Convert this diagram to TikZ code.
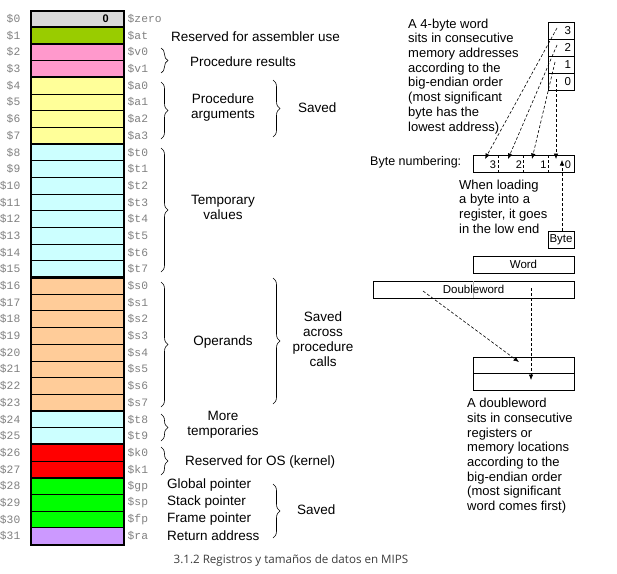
\documentclass[tikz,border=0pt]{standalone}
\usepackage{fontspec}
\setmainfont{Liberation Sans}
\newfontfamily\monof{Liberation Mono}
\newfontfamily\capf{Open Sans}
\usetikzlibrary{decorations.pathreplacing,arrows.meta,calc}
\definecolor{czero}{HTML}{D9D9D9}
\definecolor{cat}{HTML}{99CC00}
\definecolor{cv}{HTML}{FF99CC}
\definecolor{ca}{HTML}{FFFF99}
\definecolor{ct}{HTML}{CCFFFF}
\definecolor{cs}{HTML}{FFCC99}
\definecolor{ck}{HTML}{FF0000}
\definecolor{cg}{HTML}{00FF00}
\definecolor{cra}{HTML}{CC99FF}
\definecolor{mgray}{HTML}{808080}
\definecolor{capgray}{HTML}{3C3C3C}
\begin{document}
\begin{tikzpicture}[x=1pt,y=-1pt,
  reg/.style={draw, line width=0.8pt, minimum width=93pt, minimum height=16.6875pt, inner sep=0pt, outer sep=0pt},
  regnum/.style={font=\monof\fontsize{11.3}{12}\selectfont, text=mgray, inner sep=0pt, anchor=east},
  regname/.style={font=\monof\fontsize{11.3}{12}\selectfont, text=mgray, inner sep=0pt, anchor=west},
  lbl/.style={font=\fontsize{13.5}{15}\selectfont, inner sep=0pt, align=center},
  para/.style={font=\fontsize{13}{14.7}\selectfont, inner sep=0pt, align=left, anchor=north west},
  brc/.style={decorate, decoration={brace, amplitude=7pt}, line width=0.6pt},
  sbox/.style={draw, line width=0.6pt, inner sep=0pt, outer sep=0pt, font=\fontsize{11.5}{12}\selectfont},
  darr/.style={line width=0.6pt, dash pattern=on 3pt off 2pt, -{Latex[length=5.5pt,width=4.5pt]}},
  dline/.style={line width=0.6pt, dash pattern=on 3pt off 2pt}
]
\useasboundingbox (0,0) rectangle (617,573);

% register column
\foreach \i/\c/\rn in {0/czero/zero,1/cat/at,2/cv/v0,3/cv/v1,4/ca/a0,5/ca/a1,6/ca/a2,7/ca/a3,
  8/ct/t0,9/ct/t1,10/ct/t2,11/ct/t3,12/ct/t4,13/ct/t5,14/ct/t6,15/ct/t7,
  16/cs/s0,17/cs/s1,18/cs/s2,19/cs/s3,20/cs/s4,21/cs/s5,22/cs/s6,23/cs/s7,
  24/ct/t8,25/ct/t9,26/ck/k0,27/ck/k1,28/cg/gp,29/cg/sp,30/cg/fp,31/cra/ra}{
  \node[reg, fill=\c] (r\i) at (77.5,{10.5+(\i+0.5)*16.6875}) {};
  \node[regnum] (num\i) at (20.5,{10.5+(\i+0.5)*16.6875}) {\$\i};
  \node[regname] (nm\i) at (127.5,{10.5+(\i+0.5)*16.6875}) {\$\rn};
}
\foreach \k in {0,1,3,7,15,23,25,27}{
  \draw[line width=2.2pt] (r\k.south west) -- (r\k.south east);
}
\draw[line width=2pt] (r0.north west) rectangle (r31.south east);
\node[font=\bfseries\fontsize{11}{12}\selectfont, inner sep=0pt, anchor=east] (zeroval) at (109,19) {0};

% braces
\draw[brc] (161,48) -- (161,73);
\draw[brc] (161,82) -- (161,139);
\draw[brc] (273,80) -- (273,137);
\draw[brc] (161,148) -- (161,272);
\draw[brc] (161,282) -- (161,407);
\draw[brc] (273,278) -- (273,404);
\draw[brc] (161,414) -- (161,441);
\draw[brc] (161,447) -- (161,475);
\draw[brc] (273,484) -- (273,538);

% labels
\node[lbl, anchor=west] (asm) at (171,37) {Reserved for assembler use};
\node[lbl, anchor=west] (pres) at (190,62) {Procedure results};
\node[lbl] (parg) at (223,107.5) {Procedure\\arguments};
\node[lbl, anchor=west] (sav1) at (298,108) {Saved};
\node[lbl] (tmp) at (223,207.5) {Temporary\\values};
\node[lbl] (oper) at (223,342) {Operands};
\node[lbl] (across) at (323,339.5) {Saved\\across\\procedure\\calls};
\node[lbl] (more) at (223,424.5) {More\\temporaries};
\node[lbl, anchor=west] (os) at (185,462) {Reserved for OS (kernel)};
\node[lbl, anchor=west] (gpl) at (167,485) {Global pointer};
\node[lbl, anchor=west] (spl) at (167,502) {Stack pointer};
\node[lbl, anchor=west] (fpl) at (167,519) {Frame pointer};
\node[lbl, anchor=west] (ral) at (167,536) {Return address};
\node[lbl, anchor=west] (sav3) at (297,510) {Saved};

% right side: 4-byte word
\node[para] (p1) at (408,18.5) {A 4-byte word\\sits in consecutive\\memory addresses\\according to the\\big-endian order\\(most significant\\byte has the\\lowest address)};
\foreach \j/\yy in {3/30.5,2/47.5,1/64.5,0/81.5}{
  \node[sbox, minimum width=26pt, minimum height=17pt, text width=20pt, align=right] (b\j) at (561,\yy) {\j};
}
\node[font=\fontsize{12.5}{14}\selectfont, inner sep=0pt, anchor=west] (bnl) at (370,162.5) {Byte numbering:};
\node[sbox, minimum width=101pt, minimum height=17pt] (bn) at (523.5,163.5) {};
\foreach \f in {0.25,0.5,0.75}{
  \draw[dline] ($(bn.north west)!\f!(bn.north east)$) -- ($(bn.south west)!\f!(bn.south east)$);
}
\foreach \j/\xx in {3/493,2/519,1/543.5,0/568}{
  \node[font=\fontsize{11}{12}\selectfont, inner sep=0pt] (n\j) at (\xx,165) {\j};
}
\coordinate (t3) at (485,159);
\coordinate (t2) at (508,159);
\coordinate (t1) at (532,159);
\coordinate (t0) at (556,159);
\draw[darr] ([xshift=-4pt,yshift=2.5pt]b3.center) -- (t3);
\draw[darr] ([xshift=-4pt,yshift=2.5pt]b2.center) -- (t2);
\draw[darr] ([xshift=-6pt,yshift=2.5pt]b1.center) -- (t1);
\draw[darr] ([xshift=-5pt,yshift=2.5pt]b0.center) -- (t0);

\node[para] (p2) at (459,179.5) {When loading\\a byte into a\\register, it goes\\in the low end};
\node[sbox, minimum width=26pt, minimum height=17pt] (byte) at (561,239.5) {Byte};
\coordinate (tb) at (562,160);
\draw[darr] (byte.north -| tb) -- (tb);
\node[sbox, minimum width=101pt, minimum height=17pt] (word) at (523.5,264.5) {Word};
\node[sbox, minimum width=201pt, minimum height=17pt] (dw) at (473.5,289.5) {};
\draw[black!30, line width=0.6pt] (dw.north) -- (dw.south);
\node[font=\fontsize{11.5}{12}\selectfont, inner sep=0pt] (dwl) at (dw.center) {Doubleword};
\node[sbox, minimum width=101pt, minimum height=16pt] (hi) at (523.5,365) {};
\node[sbox, minimum width=101pt, minimum height=17pt] (lo) at (523.5,381.5) {};
\draw[darr] ([xshift=-50.5pt,yshift=-1.5pt]dw.center) -- ([xshift=-4.5pt,yshift=3pt]hi.center);
\draw[darr] ([xshift=57.5pt,yshift=1.5pt]dw.center) -- ([xshift=7.5pt,yshift=1.5pt]lo.center);

\node[para] (p3) at (467,398) {A doubleword\\sits in consecutive\\registers or\\memory locations\\according to the\\big-endian order\\(most significant\\word comes first)};

% caption
\node[font=\capf\fontsize{11.6}{13}\selectfont, text=capgray, inner sep=0pt] (cap) at (291,560) {3.1.2 Registros y tamaños de datos en MIPS};
\end{tikzpicture}
\end{document}
